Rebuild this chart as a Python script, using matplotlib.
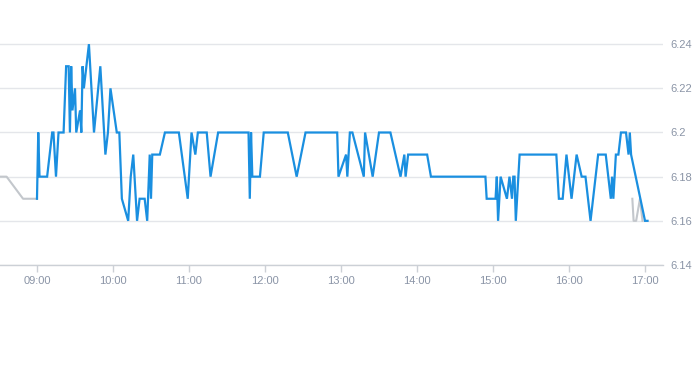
import matplotlib
matplotlib.use("Agg")
import matplotlib.pyplot as plt
import numpy as np

# ---- data ----
price_times = ["09:00", "09:01", "09:02", "09:08", "09:12", "09:13", "09:15", "09:17", "09:21",
               "09:23", "09:25", "09:26", "09:27", "09:28", "09:30", "09:31", "09:34", "09:35",
               "09:36", "09:37", "09:41", "09:45", "09:50", "09:54", "09:56", "09:58", "10:03",
               "10:05", "10:07", "10:12", "10:14", "10:16", "10:19", "10:21", "10:25", "10:27",
               "10:29", "10:30", "10:31", "10:37", "10:41", "10:52", "10:59", "11:02", "11:05",
               "11:07", "11:14", "11:17", "11:23", "11:47", "11:48", "11:49", "11:50", "11:56",
               "11:59", "12:18", "12:25", "12:32", "12:57", "12:58", "13:04", "13:05", "13:07",
               "13:09", "13:18", "13:19", "13:25", "13:30", "13:39", "13:47", "13:50", "13:51",
               "13:53", "14:08", "14:11", "14:54", "14:55", "15:02", "15:03", "15:04", "15:06",
               "15:11", "15:13", "15:15", "15:16", "15:17", "15:18", "15:21", "15:50", "15:52",
               "15:55", "15:58", "16:02", "16:06", "16:10", "16:13", "16:17", "16:23", "16:29",
               "16:33", "16:34", "16:35", "16:37", "16:39", "16:41", "16:45", "16:47", "16:48",
               "16:49", "17:00", "17:02"]
price_values = [6.17, 6.20, 6.18, 6.18, 6.20, 6.20, 6.18, 6.20, 6.20,
                6.23, 6.23, 6.20, 6.23, 6.21, 6.22, 6.20, 6.21, 6.20,
                6.23, 6.22, 6.24, 6.20, 6.23, 6.19, 6.20, 6.22, 6.20,
                6.20, 6.17, 6.16, 6.18, 6.19, 6.16, 6.17, 6.17, 6.16,
                6.19, 6.17, 6.19, 6.19, 6.20, 6.20, 6.17, 6.20, 6.19,
                6.20, 6.20, 6.18, 6.20, 6.20, 6.17, 6.20, 6.18, 6.18,
                6.20, 6.20, 6.18, 6.20, 6.20, 6.18, 6.19, 6.18, 6.20,
                6.20, 6.18, 6.20, 6.18, 6.20, 6.20, 6.18, 6.19, 6.18,
                6.19, 6.19, 6.18, 6.18, 6.17, 6.17, 6.18, 6.16, 6.18,
                6.17, 6.18, 6.17, 6.18, 6.18, 6.16, 6.19, 6.19, 6.17,
                6.17, 6.19, 6.17, 6.19, 6.18, 6.18, 6.16, 6.19, 6.19,
                6.17, 6.18, 6.17, 6.19, 6.19, 6.20, 6.20, 6.19, 6.20,
                6.19, 6.16, 6.16]

pre_times = ["08:31", "08:36", "08:49", "09:00"]
pre_values = [6.18, 6.18, 6.17, 6.17]

post_times = ["16:50", "16:51", "16:53", "16:56", "16:58"]
post_values = [6.17, 6.16, 6.16, 6.17, 6.16]

x_tick_labels = ["09:00", "10:00", "11:00", "12:00", "13:00", "14:00", "15:00", "16:00", "17:00"]
y_ticks = [6.14, 6.16, 6.18, 6.20, 6.22, 6.24]
y_tick_labels = ["6.14", "6.16", "6.18", "6.2", "6.22", "6.24"]


def to_min(t):
    h, m = t.split(":")
    return int(h) * 60 + int(m)


W, H = 693, 365
fig = plt.figure(figsize=(W / 100, H / 100), dpi=100)
ax = fig.add_axes([0, 100 / H, 663 / W, 265 / H])

grid_c = "#e4e6ea"
lab_c = "#8a94a6"

ax.plot([to_min(t) for t in pre_times], pre_values, color="#c3c7cc", lw=1.5, zorder=2)
ax.plot([to_min(t) for t in price_times], price_values, color="#1a8fe0", lw=1.6, zorder=3,
        solid_joinstyle="miter")
ax.plot([to_min(t) for t in post_times], post_values, color="#c3c7cc", lw=1.5, zorder=2)

ax.set_xlim(to_min("08:31") - 0.2, to_min("17:14") + 0.2)
ax.set_ylim(6.14, 6.26)

ax.set_xticks([to_min(t) for t in x_tick_labels])
ax.set_xticklabels(x_tick_labels)
ax.set_yticks(y_ticks)
ax.set_yticklabels(y_tick_labels)
ax.yaxis.tick_right()

for s in ["top", "left", "right"]:
    ax.spines[s].set_visible(False)
ax.spines["bottom"].set_color("#ccd0d6")
ax.spines["bottom"].set_linewidth(1)

ax.grid(axis="y", color=grid_c, lw=1)
ax.set_axisbelow(True)
ax.tick_params(axis="x", length=5, width=1, color="#ccd0d6", labelcolor=lab_c,
               labelsize=8, pad=3)
ax.tick_params(axis="y", length=0, labelcolor=lab_c, labelsize=8, pad=5.5)
for lab in ax.get_xticklabels() + ax.get_yticklabels():
    lab.set_family("Liberation Sans")

fig.savefig("out.png", dpi=100, facecolor="white")
